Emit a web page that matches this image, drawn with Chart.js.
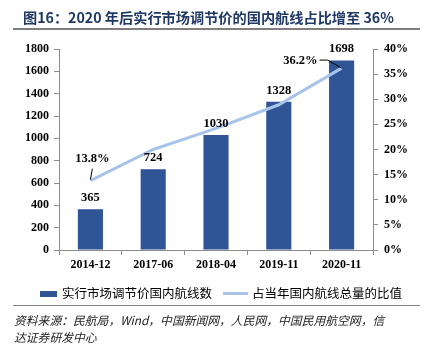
<!DOCTYPE html>
<html>
<head>
<meta charset="utf-8">
<script src="https://cdn.jsdelivr.net/npm/chart.js@4/dist/chart.umd.min.js"></script>
<style>
  html,body{margin:0;padding:0;background:#fff;}
  #wrap{position:relative;width:424px;height:344px;overflow:hidden;}
  #c{position:absolute;left:0;top:0;}
  .title{position:absolute;left:23px;top:7px;font-family:"Noto Sans CJK SC","Noto Sans",sans-serif;font-weight:700;font-size:14.2px;color:#1f3864;white-space:nowrap;letter-spacing:0px;}
  .rule1{position:absolute;left:13px;top:28px;width:407px;height:2px;background:#7f7f7f;}
  .rule2{position:absolute;left:13px;top:305px;width:407px;height:1px;background:#7f7f7f;}
  .leg{position:absolute;top:283px;font-family:"Noto Sans CJK SC",sans-serif;font-size:12.5px;color:#000;white-space:nowrap;}
  .src{position:absolute;left:14px;font-family:"Noto Sans CJK SC",sans-serif;font-style:italic;font-size:11.8px;color:#222;white-space:nowrap;}
</style>
</head>
<body>
<div id="wrap">
  <canvas id="c" width="424" height="344"></canvas>
  <div class="title">图16：2020 年后实行市场调节价的国内航线占比增至 36%</div>
  <div class="rule1"></div>
  <div class="leg" style="left:40px;"><span style="display:inline-block;width:17px;height:6px;background:#2f5597;vertical-align:middle;margin-right:5px;position:relative;top:-1px;"></span>实行市场调节价国内航线数</div>
  <div class="leg" style="left:223px;"><span style="display:inline-block;width:25px;height:3px;background:#a9c4eb;vertical-align:middle;margin-right:4px;position:relative;top:-1px;"></span>占当年国内航线总量的比值</div>
  <div class="rule2"></div>
  <div class="src" style="top:311px;">资料来源：民航局，Wind，中国新闻网，人民网，中国民用航空网，信</div>
  <div class="src" style="top:328px;">达证券研发中心</div>
</div>
<script>
const categories = ['2014-12', '2017-06', '2018-04', '2019-11', '2020-11'];
const routeCounts = [365, 724, 1030, 1328, 1698];
const routeShare = [13.8, 20.0, 24.2, 28.9, 36.2];
const leftTicks = [0, 200, 400, 600, 800, 1000, 1200, 1400, 1600, 1800];
const rightTicks = [0, 5, 10, 15, 20, 25, 30, 35, 40];

const tickFont = {family: '"Liberation Serif","Times New Roman",serif', size: 12, weight: 'bold'};

const labelPlugin = {
  id: 'labels',
  afterDatasetsDraw(chart) {
    const ctx = chart.ctx;
    ctx.save();
    ctx.font = 'bold 12.5px "Liberation Serif", serif';
    ctx.fillStyle = '#000';
    ctx.textAlign = 'center';
    ctx.textBaseline = 'bottom';
    const bars = chart.getDatasetMeta(0).data;
    bars.forEach((b, i) => {
      ctx.fillText(String(routeCounts[i]), b.x, b.y - 5);
    });
    const pts = chart.getDatasetMeta(1).data;
    const p0 = pts[0];
    ctx.strokeStyle = '#000';
    ctx.lineWidth = 1;
    ctx.beginPath();
    ctx.moveTo(p0.x, p0.y - 1);
    ctx.lineTo(p0.x + 2, p0.y - 12);
    ctx.stroke();
    ctx.textBaseline = 'middle';
    ctx.fillText(routeShare[0].toFixed(1) + '%', p0.x + 2, p0.y - 22);
    const pl = pts[pts.length - 1];
    ctx.beginPath();
    ctx.moveTo(pl.x, pl.y);
    ctx.lineTo(pl.x - 14, pl.y - 8);
    ctx.lineTo(pl.x - 22, pl.y - 8);
    ctx.stroke();
    ctx.textAlign = 'right';
    ctx.fillText(routeShare[routeShare.length - 1].toFixed(1) + '%', pl.x - 24, pl.y - 7);
    ctx.restore();
  }
};

new Chart(document.getElementById('c'), {
  data: {
    labels: categories,
    datasets: [
      {type: 'bar', data: routeCounts, backgroundColor: '#2f5597', yAxisID: 'y', barPercentage: 0.4, categoryPercentage: 1.0, order: 2},
      {type: 'line', data: routeShare, borderColor: '#a9c4eb', borderWidth: 3, pointRadius: 0, tension: 0, yAxisID: 'y1', order: 1}
    ]
  },
  options: {
    responsive: false,
    animation: false,
    devicePixelRatio: 1,
    layout: {padding: {left: 0, right: 0, top: 49, bottom: 64}},
    plugins: {legend: {display: false}, tooltip: {enabled: false}},
    scales: {
      x: {
        offset: true,
        grid: {display: true, drawOnChartArea: false, offset: true, tickLength: 5, color: '#8c8c8c'},
        border: {color: '#8c8c8c'},
        ticks: {font: tickFont, color: '#000', padding: 3, maxRotation: 0},
        afterFit(s) { s.height = 30; }
      },
      y: {
        position: 'left',
        min: 0, max: 1800,
        afterBuildTicks(s) { s.ticks = leftTicks.map(v => ({value: v})); },
        grid: {display: true, drawOnChartArea: false, tickLength: 5, color: '#8c8c8c'},
        border: {color: '#8c8c8c'},
        ticks: {font: tickFont, color: '#000', padding: 5, callback: v => String(v)},
        afterFit(s) { s.width = 59; }
      },
      y1: {
        position: 'right',
        min: 0, max: 40,
        afterBuildTicks(s) { s.ticks = rightTicks.map(v => ({value: v})); },
        grid: {display: true, drawOnChartArea: false, tickLength: 5, color: '#8c8c8c'},
        border: {color: '#8c8c8c'},
        ticks: {font: tickFont, color: '#000', padding: 6, callback: v => v + '%'},
        afterFit(s) { s.width = 51; }
      }
    }
  },
  plugins: [labelPlugin]
});
</script>
</body>
</html>
